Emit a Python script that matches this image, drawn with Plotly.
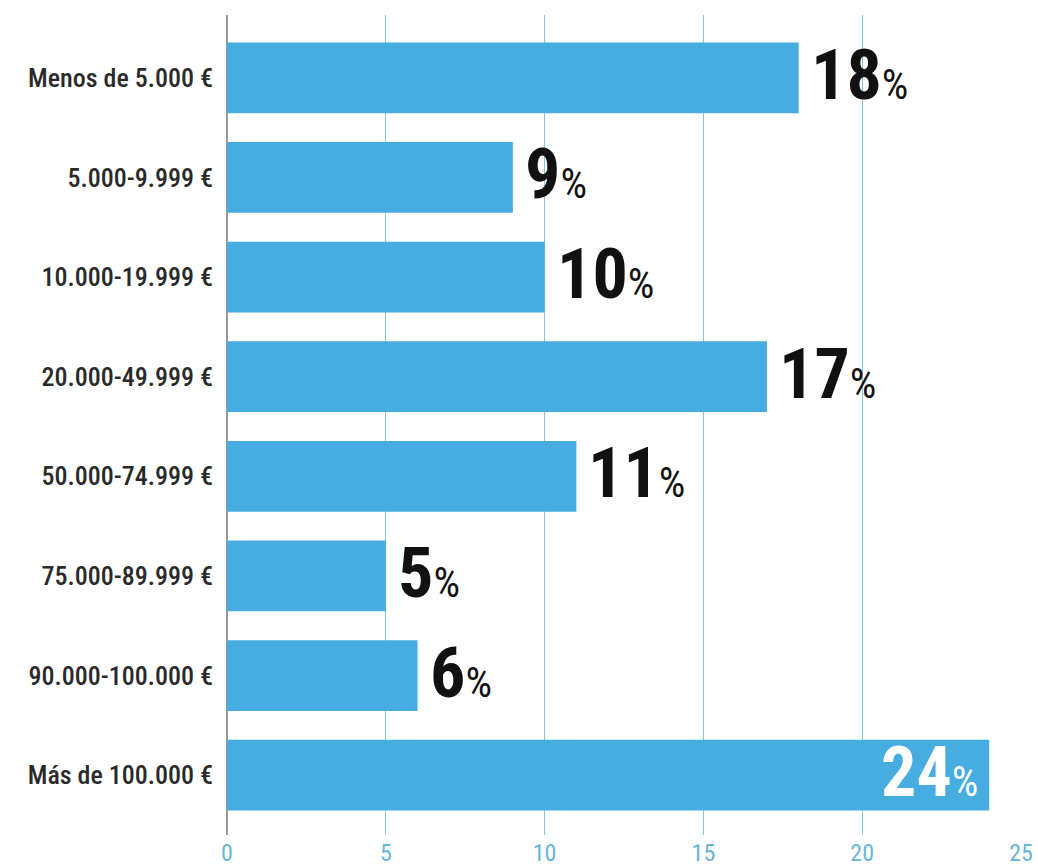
import plotly.graph_objects as go

categories = ["Menos de 5.000 €", "5.000-9.999 €", "10.000-19.999 €", "20.000-49.999 €",
              "50.000-74.999 €", "75.000-89.999 €", "90.000-100.000 €", "Más de 100.000 €"]
values = [18, 9, 10, 17, 11, 5, 6, 24]
x_ticks = [0, 5, 10, 15, 20, 25]

BAR = "#47ACE0"
NARROW = "Roboto Condensed, Liberation Sans Narrow, Arial Narrow, DejaVu Sans Condensed, sans-serif"

fig = go.Figure(go.Bar(
    y=categories, x=values, orientation="h",
    marker=dict(color=BAR, line=dict(width=0)),
    width=0.71, hoverinfo="skip",
))

vmax = max(values)
for cat, v in zip(categories, values):
    inside = v == vmax
    fig.add_annotation(
        x=v, y=cat, xref="x", yref="y",
        text=f"<b>{v}</b><span style='font-size:42px'>%</span>",
        showarrow=False,
        xanchor="right" if inside else "left",
        xshift=-9 if inside else 10,
        yanchor="middle", yshift=3,
        font=dict(family=NARROW, size=70, color="white" if inside else "#111111"),
    )

fig.update_layout(
    width=1038, height=868,
    margin=dict(l=227, r=17, t=15, b=33),
    plot_bgcolor="white", paper_bgcolor="white",
    showlegend=False,
)
fig.update_xaxes(
    range=[0, 25], tickvals=x_ticks, ticktext=[str(t) for t in x_ticks],
    showgrid=True, gridcolor="#86C7E6", gridwidth=1.3,
    zeroline=True, zerolinecolor="#9A9A9A", zerolinewidth=1.5,
    showline=False, ticks="", ticklabelstandoff=1,
    tickfont=dict(family=NARROW, size=24, color="#6AB5DA"),
    automargin=False,
)
fig.update_yaxes(
    categoryorder="array", categoryarray=categories,
    range=[7.6, -0.63],
    showgrid=False, zeroline=False, showline=False, ticks="",
    ticklabelstandoff=13,
    tickfont=dict(family=NARROW, size=26, color="#2a2a2a", weight=500),
    automargin=False,
)

fig.write_html("out.html")
